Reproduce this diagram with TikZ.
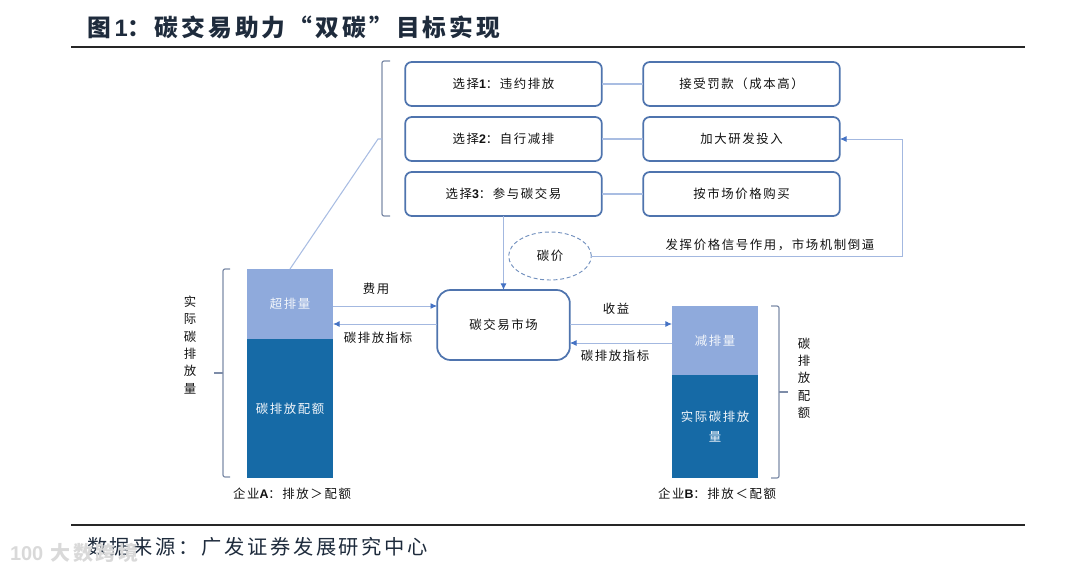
\documentclass[tikz,border=0pt]{standalone}
\usepackage{fontspec}
\usetikzlibrary{shapes.geometric,arrows.meta}
\setmainfont[LetterSpace=13]{Noto Sans CJK SC}
\newfontfamily\latfont{Liberation Sans}
\newcommand{\lat}[1]{{\latfont\bfseries #1}}
\definecolor{boxedge}{HTML}{4F74AE}
\definecolor{linkline}{HTML}{A9BDE2}
\definecolor{arrowline}{HTML}{A3B8E0}
\definecolor{arrowtip}{HTML}{4472C4}
\definecolor{bracketline}{HTML}{7D8CA8}
\definecolor{barlight}{HTML}{8FAADC}
\definecolor{bardark}{HTML}{166AA6}
\definecolor{inktext}{HTML}{111111}
\definecolor{titletext}{HTML}{1E2B3C}
\begin{document}
\begin{tikzpicture}[x=0.75pt,y=-0.75pt,
	every node/.style={inner sep=0pt,outer sep=0pt,text=inktext,font=\fontsize{9.3}{13}\selectfont},
	choicebox/.style={draw=boxedge,line width=1.3pt,rounded corners=5pt,fill=white,minimum width=147.5pt,minimum height=33pt},
	marketbox/.style={draw=boxedge,line width=1.3pt,rounded corners=10pt,fill=white,minimum width=99.5pt,minimum height=52.5pt},
	pricenode/.style={draw=boxedge!80,densely dashed,ellipse,line width=0.7pt,minimum width=62pt,minimum height=36pt},
	barpart/.style={minimum width=64.5pt,text=white!90!barlight,align=center,font=\fontsize{9.3}{15}\selectfont},
	linkpath/.style={draw=linkline,line width=0.8pt},
	flow/.style={draw=arrowline,line width=0.7pt,-{Latex[length=5pt,width=4.5pt,color=arrowtip]}},
	bracket/.style={draw=bracketline,line width=0.9pt,rounded corners=1.5pt},
	rulepath/.style={draw=black!85,line width=0.9pt},
	sidetext/.style={align=center,font=\fontsize{9.3}{13}\selectfont}]
	\useasboundingbox (0,0) rectangle (1080,574);
	% header and footer
	\node[anchor=west,text=titletext,font=\fontsize{17.8}{20}\selectfont\bfseries] (title) at (87,27) {图\,\lat{1}：碳交易助力“双碳”目标实现};
	\coordinate (ruleTopL) at (71,47);
	\coordinate (ruleTopR) at (1025,47);
	\coordinate (ruleBotL) at (71,525);
	\coordinate (ruleBotR) at (1025,525);
	\draw[rulepath] (ruleTopL) -- (ruleTopR);
	\draw[rulepath] (ruleBotL) -- (ruleBotR);
	\node[anchor=west,text=titletext,font=\fontsize{15.2}{18}\selectfont] (source) at (87,547) {数据来源：广发证券发展研究中心};
	\node[anchor=west,text=black!15,font=\fontsize{15}{15}\selectfont\bfseries] (mark) at (10,553) {\lat{100}\ 大数跨境};
	% choices
	\node[choicebox] (choiceA) at (503.5,84) {选择\lat{1}：违约排放};
	\node[choicebox] (choiceB) at (503.5,139) {选择\lat{2}：自行减排};
	\node[choicebox] (choiceC) at (503.5,194) {选择\lat{3}：参与碳交易};
	\node[choicebox] (resultA) at (741.5,84) {接受罚款（成本高）};
	\node[choicebox] (resultB) at (741.5,139) {加大研发投入};
	\node[choicebox] (resultC) at (741.5,194) {按市场价格购买};
	\draw[linkpath] (choiceA) -- (resultA);
	\draw[linkpath] (choiceB) -- (resultB);
	\draw[linkpath] (choiceC) -- (resultC);
	\draw[bracket] (390,61) -- (382,61) -- (382,216) -- (390,216);
	% market and price
	\node[marketbox] (market) at (503.5,325) {碳交易市场};
	\node[pricenode] (price) at (550,256) {碳价};
	\draw[flow] (choiceC.south) -- (market.north);
	\coordinate (priceTurn) at (902,256);
	\draw[flow] (price.east) -- (priceTurn) |- (resultB.east);
	\node (signal) at (770,245) {发挥价格信号作用，市场机制倒逼};
	% company A
	\node[barpart,fill=barlight,minimum height=52.5pt] (overA) at (290,304) {超排量};
	\node[barpart,fill=bardark,minimum height=104.25pt] (quotaA) at (290,408.5) {碳排放配额};
	\node (nameA) at (292,494) {企业\lat{A}：排放＞配额};
	\coordinate (bracketAmid) at (382,139);
	\draw[linkpath] (overA.north) -- (378,139) -- (bracketAmid);
	\draw[bracket] (230,269) -- (223,269) -- (223,477) -- (230,477);
	\coordinate (tickAin) at (223,373);
	\coordinate (tickAout) at (214,373);
	\draw[bracket] (tickAin) -- (tickAout);
	\node[sidetext] (sideA) at (190,345) {实\\际\\碳\\排\\放\\量};
	\draw[flow] (overA.east |- 0,306) -- (market.west |- 0,306);
	\draw[flow] (market.west |- 0,324) -- (overA.east |- 0,324);
	\node (feeLabel) at (376,289) {费用};
	\node (tokenA) at (378,338) {碳排放指标};
	% company B
	\node[barpart,fill=barlight,minimum height=51.75pt] (cutB) at (715,340.5) {减排量};
	\node[barpart,fill=bardark,minimum height=77.25pt] (realB) at (715,426.5) {实际碳排放\\量};
	\node (nameB) at (717,494) {企业\lat{B}：排放＜配额};
	\draw[bracket] (771,306) -- (779,306) -- (779,478) -- (771,478);
	\coordinate (tickBin) at (779,392);
	\coordinate (tickBout) at (788,392);
	\draw[bracket] (tickBin) -- (tickBout);
	\node[sidetext] (sideB) at (804,378) {碳\\排\\放\\配\\额};
	\draw[flow] (market.east |- 0,324) -- (cutB.west |- 0,324);
	\draw[flow] (cutB.west |- 0,343) -- (market.east |- 0,343);
	\node (incomeLabel) at (616,309) {收益};
	\node (tokenB) at (615,356) {碳排放指标};
\end{tikzpicture}
\end{document}
